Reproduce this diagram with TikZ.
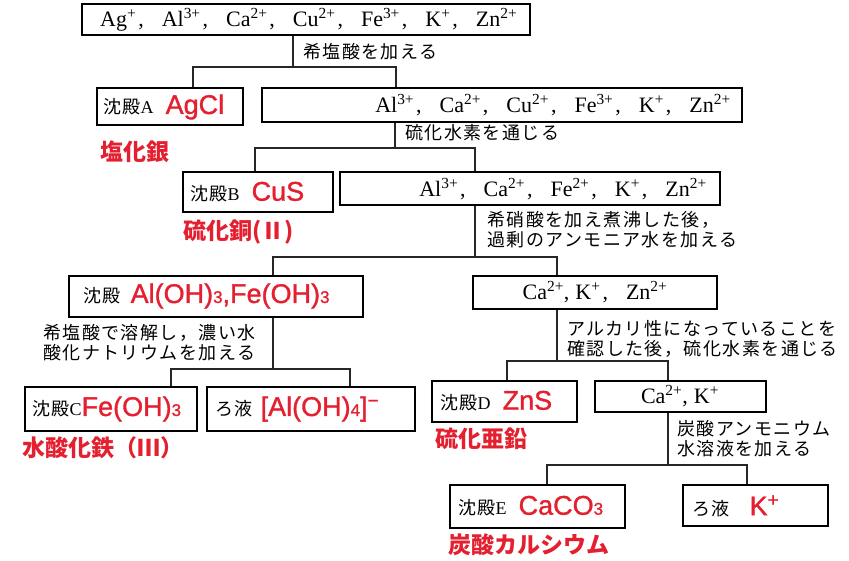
\documentclass[tikz,border=0pt]{standalone}
\usepackage{fontspec}
\setmainfont{Liberation Serif}
\newfontfamily\jp{Noto Sans CJK JP}[LetterSpace=8]
\newfontfamily\jpr{Noto Sans CJK JP}
\newfontfamily\ar{Liberation Sans}[FakeBold=1.2]
\usetikzlibrary{fit}
\definecolor{rd}{RGB}{228,32,48}
\newcommand\sepc{\hspace{2pt},\hspace{18pt}}
\newcommand\sbn[1]{{\fontsize{17}{17}\selectfont #1}}
\newcommand\sps[1]{\textsuperscript{#1}}
\tikzset{
  box/.style={draw, line width=1.3pt, inner sep=0pt},
  conn/.style={draw, line width=1.1pt, black!85},
  ion/.style={inner sep=0pt, font=\fontsize{22}{22}\selectfont},
  lab/.style={inner sep=0pt, align=left, font=\jp\fontsize{18}{20}\selectfont},
  cont/.style={inner sep=0pt, anchor=west, font=\fontsize{18}{18}\selectfont},
  red/.style={inner sep=0pt, anchor=west, text=rd, font=\jpr\bfseries\fontsize{23}{23}\selectfont},
}
\newcommand\rf[1]{{\ar\color{rd}\fontsize{27}{27}\selectfont #1}}
\begin{document}
\begin{tikzpicture}[x=1pt,y=-1pt]
\useasboundingbox (0,0) rectangle (849,561);
% boxes
\node[box, fit={(82,4)(530,35)}] (top) {};
\node[box, fit={(97,88)(243,125)}] (A) {};
\node[box, fit={(262,88)(742,122)}] (R1) {};
\node[box, fit={(183,172)(333,212)}] (B) {};
\node[box, fit={(340,172)(720,205)}] (R2) {};
\node[box, fit={(69,276)(363,317)}] (AF) {};
\node[box, fit={(473,276)(717,309)}] (R3) {};
\node[box, fit={(25,387)(197,431)}] (C) {};
\node[box, fit={(207,387)(415,431)}] (F1) {};
\node[box, fit={(432,381)(577,422)}] (D) {};
\node[box, fit={(595,381)(766,412)}] (R4) {};
\node[box, fit={(450,485)(625,528)}] (E) {};
\node[box, fit={(683,485)(828,526)}] (F2) {};
% box texts
\node[ion, anchor=west] (ttop) at (100,20) {Ag\sps{+}\sepc Al\sps{3+}\sepc Ca\sps{2+}\sepc Cu\sps{2+}\sepc Fe\sps{3+}\sepc K\sps{+}\sepc Zn\sps{2+}};
\node[cont] (tA) at (103,107) {{\jp 沈殿}A\hspace{12pt}\rf{AgCl}};
\node[ion, anchor=east] (tR1) at (731,105) {Al\sps{3+}\sepc Ca\sps{2+}\sepc Cu\sps{2+}\sepc Fe\sps{3+}\sepc K\sps{+}\sepc Zn\sps{2+}};
\node[cont] (tB) at (190,192) {{\jp 沈殿}B\hspace{12pt}\rf{CuS}};
\node[ion, anchor=east] (tR2) at (707,189) {Al\sps{3+}\sepc Ca\sps{2+}\sepc Fe\sps{2+}\sepc K\sps{+}\sepc Zn\sps{2+}};
\node[cont] (tAF) at (83,296) {{\jp 沈殿}\hspace{10pt}\rf{Al(OH)\sbn{3},Fe(OH)\sbn{3}}};
\node[ion] (tR3) at (595,292) {Ca\sps{2+},\hspace{6pt}K\sps{+}\sepc Zn\sps{2+}};
\node[cont] (tC) at (32,409) {{\jp 沈殿}C\rf{Fe(OH)\sbn{3}}};
\node[cont] (tF1) at (215,409) {{\jp ろ液}\hspace{8pt}\rf{[Al(OH)\sbn{4}]\textsuperscript{−}}};
\node[cont] (tD) at (440,401) {{\jp 沈殿}D\hspace{12pt}\rf{ZnS}};
\node[ion] (tR4) at (680,396) {Ca\sps{2+},\hspace{6pt}K\sps{+}};
\node[cont] (tE) at (458,506) {{\jp 沈殿}E\hspace{12pt}\rf{CaCO\sbn{3}}};
\node[cont] (tF2) at (692,506) {{\jp ろ液}\hspace{20pt}\rf{K\textsuperscript{+}}};
% red names
\node[red] (nA) at (100,152) {塩化銀};
\node[red] (nB) at (183,232) {硫化銅(Ⅱ)};
\node[red] (nC) at (22,448) {水酸化鉄（Ⅲ）};
\node[red] (nD) at (435,439) {硫化亜鉛};
\node[red] (nE) at (448,545) {炭酸カルシウム};
% connector labels
\node[lab, anchor=west] (l1) at (303,52) {希塩酸を加える};
\node[lab, anchor=west] (l2) at (405,133) {硫化水素を通じる};
\node[lab, anchor=west] (l3) at (487,230) {希硝酸を加え煮沸した後，\\過剰のアンモニア水を加える};
\node[lab, anchor=west] (l4) at (43,343) {希塩酸で溶解し，濃い水\\酸化ナトリウムを加える};
\node[lab, anchor=west] (l5) at (567,339) {アルカリ性になっていることを\\確認した後，硫化水素を通じる};
\node[lab, anchor=west] (l6) at (677,439) {炭酸アンモニウム\\水溶液を加える};
% junctions
\coordinate (j0) at (293,67); \coordinate (b1a) at (193,67); \coordinate (b1b) at (396,67);
\coordinate (j1) at (395,148); \coordinate (b2a) at (255,148); \coordinate (b2b) at (475,148);
\coordinate (j2) at (475,257); \coordinate (b3a) at (273,257); \coordinate (b3b) at (557,257);
\coordinate (j3) at (273,369); \coordinate (b4a) at (171,369); \coordinate (b4b) at (350,369);
\coordinate (j4) at (557,361); \coordinate (b5a) at (507,361); \coordinate (b5b) at (668,361);
\coordinate (j5) at (668,465); \coordinate (b6a) at (547,465); \coordinate (b6b) at (747,465);
% connectors
\draw[conn] (top.south -| j0) -- (j0);
\draw[conn] (A.north -| b1a) -- (b1a) -- (b1b) -- (R1.north -| b1b);
\draw[conn] (R1.south -| j1) -- (j1);
\draw[conn] (B.north -| b2a) -- (b2a) -- (b2b) -- (R2.north -| b2b);
\draw[conn] (R2.south -| j2) -- (j2);
\draw[conn] (AF.north -| b3a) -- (b3a) -- (b3b) -- (R3.north -| b3b);
\draw[conn] (AF.south -| j3) -- (j3);
\draw[conn] (C.north -| b4a) -- (b4a) -- (b4b) -- (F1.north -| b4b);
\draw[conn] (R3.south -| j4) -- (j4);
\draw[conn] (D.north -| b5a) -- (b5a) -- (b5b) -- (R4.north -| b5b);
\draw[conn] (R4.south -| j5) -- (j5);
\draw[conn] (E.north -| b6a) -- (b6a) -- (b6b) -- (F2.north -| b6b);
\end{tikzpicture}
\end{document}
